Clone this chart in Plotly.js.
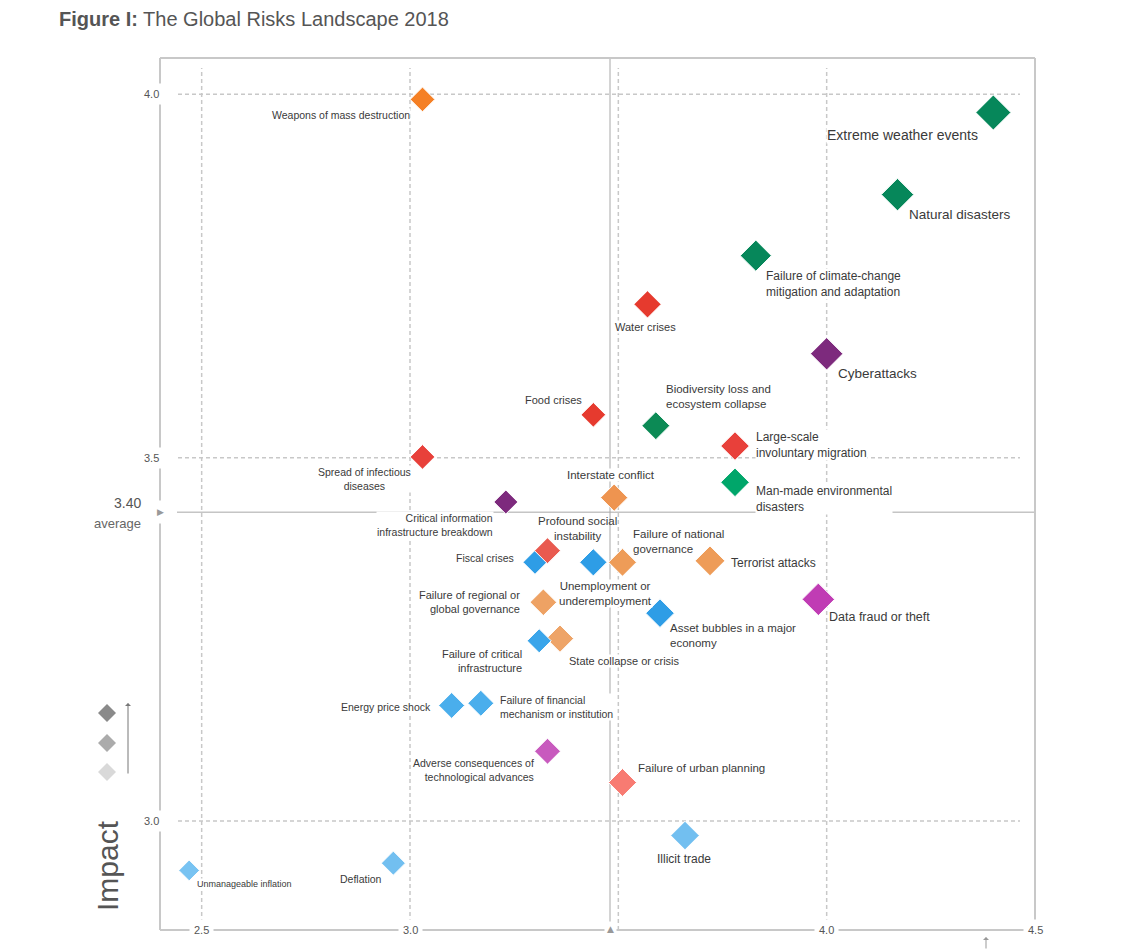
<!DOCTYPE html>
<html>
<head>
<meta charset="utf-8">
<script src="https://cdn.plot.ly/plotly-3.0.1.min.js"></script>
<style>html,body{margin:0;padding:0;background:#fff;}#chart{width:1127px;height:950px;}</style>
</head>
<body>
<div id="chart"></div>
<script>
// ---------------- DATA ----------------
const risks = [
  "Weapons of mass destruction",
  "Extreme weather events",
  "Natural disasters",
  "Failure of climate-change mitigation and adaptation",
  "Water crises",
  "Cyberattacks",
  "Food crises",
  "Biodiversity loss and ecosystem collapse",
  "Large-scale involuntary migration",
  "Spread of infectious diseases",
  "Interstate conflict",
  "Man-made environmental disasters",
  "Critical information infrastructure breakdown",
  "Fiscal crises",
  "Profound social instability",
  "Unemployment or underemployment",
  "Failure of national governance",
  "Terrorist attacks",
  "Failure of regional or global governance",
  "Asset bubbles in a major economy",
  "Data fraud or theft",
  "State collapse or crisis",
  "Failure of critical infrastructure",
  "Energy price shock",
  "Failure of financial mechanism or institution",
  "Adverse consequences of technological advances",
  "Failure of urban planning",
  "Illicit trade",
  "Deflation",
  "Unmanageable inflation"
];
const likelihood = [3.03, 4.40, 4.17, 3.83, 3.57, 4.00, 3.44, 3.59, 3.78, 3.03,
                    3.49, 3.78, 3.23, 3.30, 3.33, 3.44, 3.51, 3.72, 3.32, 3.60,
                    3.98, 3.36, 3.31, 3.10, 3.17, 3.33, 3.51, 3.66, 2.96, 2.47];
const impact     = [3.993, 3.975, 3.862, 3.778, 3.711, 3.643, 3.559, 3.544, 3.516, 3.501,
                    3.445, 3.466, 3.439, 3.356, 3.372, 3.356, 3.356, 3.358, 3.301, 3.286,
                    3.305, 3.251, 3.248, 3.159, 3.162, 3.096, 3.053, 2.980, 2.942, 2.932];
const labels = [
  "Weapons of mass destruction",
  "Extreme weather events",
  "Natural disasters",
  "Failure of climate-change<br>mitigation and adaptation",
  "Water crises",
  "Cyberattacks",
  "Food crises",
  "Biodiversity loss and<br>ecosystem collapse",
  "Large-scale<br>involuntary migration",
  "Spread of infectious<br>diseases",
  "Interstate conflict",
  "Man-made environmental<br>disasters",
  "Critical information<br>infrastructure breakdown",
  "Fiscal crises",
  "Profound social<br>instability",
  "Unemployment or<br>underemployment",
  "Failure of national<br>governance",
  "Terrorist attacks",
  "Failure of regional or<br>global governance",
  "Asset bubbles in a major<br>economy",
  "Data fraud or theft",
  "State collapse or crisis",
  "Failure of critical<br>infrastructure",
  "Energy price shock",
  "Failure of financial<br>mechanism or institution",
  "Adverse consequences of<br>technological advances",
  "Failure of urban planning",
  "Illicit trade",
  "Deflation",
  "Unmanageable inflation"
];
const avgLikelihood = 3.48;
const avgImpactLine = 3.425;
const avgImpactText = "3.40";
const xTickVals = [2.5, 3.0, 4.0, 4.5];
const xTickText = ["2.5", "3.0", "4.0", "4.5"];
const yTickVals = [4.0, 3.5, 3.0];
const yTickText = ["4.0", "3.5", "3.0"];
const xGridVals = [2.5, 3.0, 3.5, 4.0];
const yGridVals = [3.0, 3.5, 4.0];

// ---------------- STYLE ----------------
const colors = ["#f58025", "#06875a", "#06875a", "#06875a", "#e63a2e", "#7d2a7d", "#e63a2e", "#0c8a55", "#e8403a", "#e8403a",
                "#ee9450", "#00a66a", "#7d2a7d", "#2e9de6", "#e95a50", "#2e9de6", "#ee9c58", "#ee9c58", "#eea264", "#2e9de6",
                "#c03cb4", "#eea468", "#3aa5ea", "#4aaeec", "#4aaeec", "#c85abe", "#f87b72", "#72bff0", "#72bff0", "#78c3f2"];
const sizes  = [19, 27, 25, 24, 21, 25, 19, 21.5, 22, 19,
                21, 22, 18.5, 18.5, 20, 21, 21.5, 23, 20.5, 22,
                25, 21, 18.5, 20, 20, 20, 21.5, 22, 18.5, 16];
// label placement: [xanchor, dx(px), dy(px, down positive), font size, white background]
const labelPos = [
  ["right", -12, 16, 10.5, 1], ["right", -14, 22, 14, 1], ["left", 10, 20, 13.5, 1], ["left", 9, 28, 12, 1],
  ["center", -2, 23, 11, 1], ["left", 10, 20, 13.5, 1], ["right", -10, -15, 11, 1], ["left", 9, -29, 11.5, 1],
  ["left", 20, -1, 12, 1], ["center", -58, 22, 10.5, 1], ["center", -3, -23, 11.5, 1], ["left", 20, 17, 12, 1],
  ["right", -12, 23, 10.5, 1], ["right", -20, -4, 10.5, 1], ["center", 30, -22, 11.5, 0], ["center", 12, 31, 11.5, 1],
  ["left", 9, -21, 11.5, 0], ["left", 20, 2, 12, 1], ["right", -22, 0, 11, 1], ["left", 9, 22, 11.5, 1],
  ["left", 10, 18, 12.5, 1], ["left", 8, 22, 11, 1], ["right", -16, 20, 11, 1], ["right", -20, 2, 10.5, 1],
  ["left", 18, 4, 10.5, 1], ["right", -13, 19, 10.5, 1], ["left", 14, -14, 11.5, 1], ["center", -1, 23, 12, 1],
  ["right", -10, 16, 10.5, 1], ["left", 7, 14, 9, 1]
];

const FONT = "Liberation Sans, Arial, Helvetica, sans-serif";
const W = 1127, H = 950, ML = 160, MR = 92, MT = 58, MB = 20;
const PW = W - ML - MR, PH = H - MT - MB;
const px2x = p => (p - ML) / PW;
const px2y = p => (H - MB - p) / PH;

const trace = {
  type: "scatter", mode: "markers",
  x: likelihood, y: impact, text: risks, hoverinfo: "text",
  marker: { symbol: "diamond", size: sizes, color: colors, opacity: 1, line: { color: "#ffffff", width: 1 } },
  opacity: 1, cliponaxis: false, showlegend: false
};

const annotations = [];
labels.forEach((t, i) => {
  const [xa, dx, dy, fs, bg] = labelPos[i];
  annotations.push({
    x: likelihood[i], y: impact[i], xref: "x", yref: "y", text: t, showarrow: false,
    xanchor: xa, yanchor: "middle", align: xa, xshift: dx, yshift: -dy,
    font: { family: FONT, size: fs, color: "#3a3a3a" },
    bgcolor: bg ? "#ffffff" : "rgba(0,0,0,0)", borderpad: 0
  });
});
// tick labels (on the frame, white background breaks the line)
xTickVals.forEach((v, i) => annotations.push({
  x: v, y: 0, xref: "x", yref: "paper", text: xTickText[i], showarrow: false,
  xanchor: "center", yanchor: "middle", font: { family: FONT, size: 11, color: "#555" },
  bgcolor: "#ffffff", borderpad: 4
}));
yTickVals.forEach((v, i) => annotations.push({
  x: 0, y: v, xref: "paper", yref: "y", text: yTickText[i], showarrow: false,
  xanchor: "right", yanchor: "middle", xshift: 4, font: { family: FONT, size: 11, color: "#555" },
  bgcolor: "#ffffff", borderpad: 4
}));
// average markers
annotations.push({ x: avgLikelihood, y: 0, xref: "x", yref: "paper", text: "▲", showarrow: false,
  xanchor: "center", yanchor: "middle", yshift: 1, font: { family: "DejaVu Sans", size: 9, color: "#999" },
  bgcolor: "#ffffff", borderpad: 2 });
annotations.push({ x: 0, y: avgImpactLine, xref: "paper", yref: "y", text: "▶", showarrow: false,
  xanchor: "center", yanchor: "middle", font: { family: "DejaVu Sans", size: 9, color: "#999" },
  bgcolor: "#ffffff", borderpad: 6 });
annotations.push({ x: px2x(143), y: px2y(503), xref: "paper", yref: "paper", text: avgImpactText, showarrow: false,
  xanchor: "right", yanchor: "middle", font: { family: FONT, size: 14, color: "#555" } });
annotations.push({ x: px2x(143), y: px2y(523), xref: "paper", yref: "paper", text: "average", showarrow: false,
  xanchor: "right", yanchor: "middle", font: { family: FONT, size: 13, color: "#666" } });
// Impact axis label
annotations.push({ x: px2x(107), y: px2y(866), xref: "paper", yref: "paper", text: "Impact", showarrow: false,
  textangle: -90, xanchor: "center", yanchor: "middle", font: { family: FONT, size: 30, color: "#555" } });
// legend arrow
annotations.push({ x: px2x(128), y: px2y(703), xref: "paper", yref: "paper", text: "", showarrow: true,
  ax: 0, ay: 72, arrowhead: 1, arrowsize: 1, arrowwidth: 1, arrowcolor: "#777" });
// likelihood arrow (bottom right)
annotations.push({ x: px2x(986), y: px2y(937), xref: "paper", yref: "paper", text: "", showarrow: true,
  ax: 0, ay: 20, arrowhead: 1, arrowsize: 1, arrowwidth: 1, arrowcolor: "#999" });

const shapes = [];
const GRID = "#c8c8c8";
xGridVals.forEach(v => shapes.push({ type: "line", xref: "x", yref: "paper", x0: v, x1: v,
  y0: 0, y1: px2y(68), line: { color: GRID, width: 1.5, dash: "4px,3px" }, layer: "below" }));
yGridVals.forEach(v => shapes.push({ type: "line", xref: "paper", yref: "y", y0: v, y1: v,
  x0: px2x(178), x1: px2x(1020), line: { color: GRID, width: 1.5, dash: "4px,3px" }, layer: "below" }));
// average lines
shapes.push({ type: "line", xref: "x", yref: "paper", x0: avgLikelihood, x1: avgLikelihood, y0: 0, y1: 1,
  line: { color: "#a8a8a8", width: 1 }, layer: "below" });
shapes.push({ type: "line", xref: "paper", yref: "y", x0: px2x(177), x1: 1, y0: avgImpactLine, y1: avgImpactLine,
  line: { color: "#a8a8a8", width: 1 }, layer: "below" });
// frame
[[0, 0, 0, 1], [0, 1, 1, 1], [1, 0, 1, 1], [0, 0, 1, 0]].forEach(s => shapes.push({
  type: "line", xref: "paper", yref: "paper", x0: s[0], y0: s[1], x1: s[2], y1: s[3],
  line: { color: "#c8c8c8", width: 2 }, layer: "below" }));
// legend diamonds (shades)
const legendShades = ["#8a8a8a", "#ababab", "#d9d9d9"];
const legendY = [713, 743, 772];
legendShades.forEach((c, i) => {
  const cx = 107, cy = legendY[i], r = 9;
  const pts = [[cx, cy - r], [cx + r, cy], [cx, cy + r], [cx - r, cy]]
    .map(p => px2x(p[0]).toFixed(5) + "," + px2y(p[1]).toFixed(5));
  shapes.push({ type: "path", xref: "paper", yref: "paper", path: "M" + pts.join("L") + "Z",
    fillcolor: c, line: { width: 0 } });
});

const layout = {
  width: W, height: H,
  margin: { l: ML, r: MR, t: MT, b: MB },
  paper_bgcolor: "#ffffff", plot_bgcolor: "#ffffff",
  title: { text: "<b>Figure I:</b> The Global Risks Landscape 2018", x: 59 / W, xanchor: "left",
    y: 1 - 19 / H, yanchor: "middle", font: { family: FONT, size: 20, color: "#555" } },
  xaxis: { range: [2.4, 4.5], showgrid: false, zeroline: false, showline: false, showticklabels: false, ticks: "", fixedrange: true },
  yaxis: { range: [2.85, 4.05], showgrid: false, zeroline: false, showline: false, showticklabels: false, ticks: "", fixedrange: true },
  shapes: shapes, annotations: annotations, showlegend: false,
  font: { family: FONT }
};

Plotly.newPlot("chart", [trace], layout, { displayModeBar: false, staticPlot: true });
</script>
</body>
</html>
